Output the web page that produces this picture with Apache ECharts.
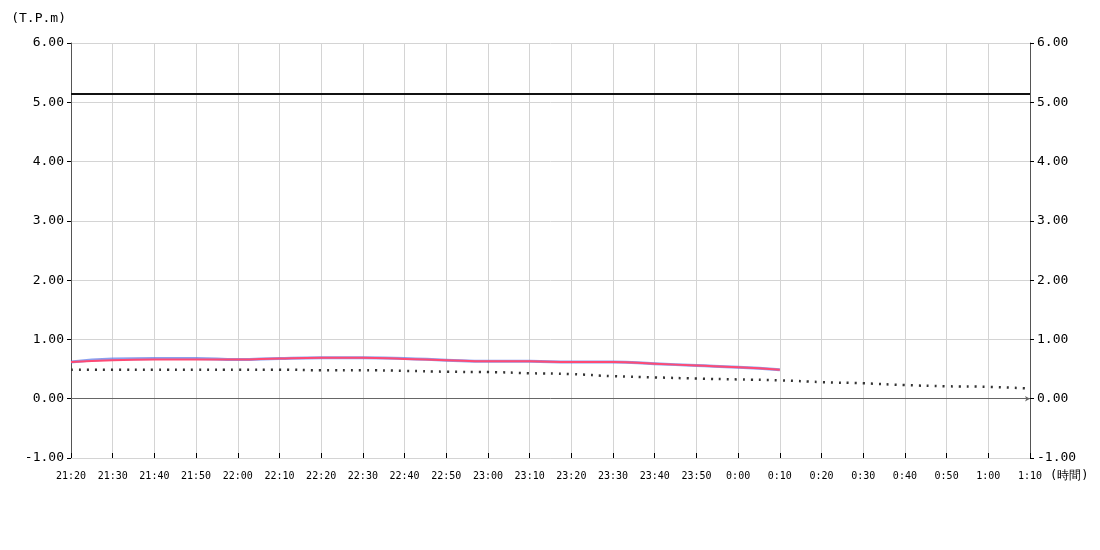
<!DOCTYPE html>
<html lang="ja">
<head>
    <meta charset="UTF-8">
    <title>潮位グラフ</title>
    <script type="text/javascript" src="https://cdn.jsdelivr.net/npm/echarts@6/dist/echarts.min.js"></script>
</head>
<body style="margin:0">
<div id="main" style="width: 1100px;height: 550px;"></div>
<script type="text/javascript">
    // 10分ごとの時刻
    var times = ['21:20','21:30','21:40','21:50','22:00','22:10','22:20','22:30','22:40','22:50',
        '23:00','23:10','23:20','23:30','23:40','23:50','0:00','0:10','0:20','0:30','0:40','0:50','1:00','1:10'];
    // 実測 (青)
    var blueVals = [0.62,0.67,0.68,0.68,0.66,0.68,0.69,0.69,0.68,0.65,0.63,0.63,0.62,0.62,0.59,0.56,0.53,0.49];
    // 実測 (赤)
    var redVals = [0.62,0.65,0.66,0.66,0.66,0.68,0.69,0.69,0.67,0.65,0.63,0.63,0.62,0.62,0.59,0.56,0.53,0.49];
    // 予測潮位 (点線)
    var tideVals = [0.49,0.49,0.49,0.49,0.49,0.49,0.48,0.48,0.47,0.455,0.45,0.43,0.415,0.38,0.36,0.34,0.325,0.31,0.28,0.26,0.23,0.21,0.20,0.17];
    // 基準線
    var limitVal = 5.15;
    var yTicks = [-1, 0, 1, 2, 3, 4, 5, 6];

    var font = 'DejaVu Sans Mono';
    var myChart = echarts.init(document.getElementById('main'));

    function yAxis(pos) {
        return {
            type: 'value', position: pos, min: -1, max: 6, interval: 1,
            name: pos === 'left' ? '(T.P.m)' : '',
            nameLocation: 'end', nameGap: 24,
            nameTextStyle: {color: '#000', fontFamily: font, fontSize: 13, align: 'right', verticalAlign: 'middle', padding: [0, 5, 0, 0]},
            axisLine: {show: true, lineStyle: {color: '#555', width: 1}},
            axisTick: {show: true, length: 4, lineStyle: {color: '#000'}},
            axisLabel: {color: '#000', fontFamily: font, fontSize: 13, margin: 7,
                formatter: function (v) { return yTicks.indexOf(v) >= 0 ? v.toFixed(2) : ''; }},
            splitLine: {show: pos === 'left', lineStyle: {color: '#d4d4d4'}}
        };
    }

    myChart.setOption({
        animation: false,
        grid: {left: 71, right: 70, top: 43, bottom: 92},
        xAxis: {
            type: 'category', data: times, boundaryGap: false,
            name: '(時間)', nameLocation: 'end', nameGap: 20,
            nameTextStyle: {color: '#000', fontFamily: font, fontSize: 12, verticalAlign: 'top', padding: [12, 0, 0, 0]},
            axisLine: {onZero: false, lineStyle: {color: '#d4d4d4'}},
            axisTick: {inside: true, length: 5, lineStyle: {color: '#000'}},
            axisLabel: {color: '#000', fontFamily: font, fontSize: 10, margin: 13, interval: 0},
            splitLine: {show: true, lineStyle: {color: '#d4d4d4'}}
        },
        yAxis: [yAxis('left'), yAxis('right')],
        series: [
            {
                name: '予測', type: 'line', data: tideVals, smooth: true, symbol: 'none',
                lineStyle: {color: '#333', width: 2.5, type: [2, 6]},
                markLine: {
                    silent: true, symbol: ['none', 'arrow'], symbolSize: [4, 5],
                    label: {show: false},
                    lineStyle: {color: '#666', width: 1, type: 'solid'},
                    data: [{yAxis: 0}]
                }
            },
            {
                name: '基準', type: 'line', symbol: 'none', data: [],
                markLine: {
                    silent: true, symbol: 'none', label: {show: false},
                    lineStyle: {color: '#111', width: 2, type: 'solid'},
                    data: [{yAxis: limitVal}]
                }
            },
            {
                name: '青', type: 'line', data: blueVals, smooth: true, symbol: 'none',
                lineStyle: {color: '#5a78e8', width: 3, opacity: 0.7}
            },
            {
                name: '赤', type: 'line', data: redVals, smooth: true, symbol: 'none',
                lineStyle: {color: '#ff4a74', width: 2}
            }
        ]
    });
</script>
</body>
</html>
